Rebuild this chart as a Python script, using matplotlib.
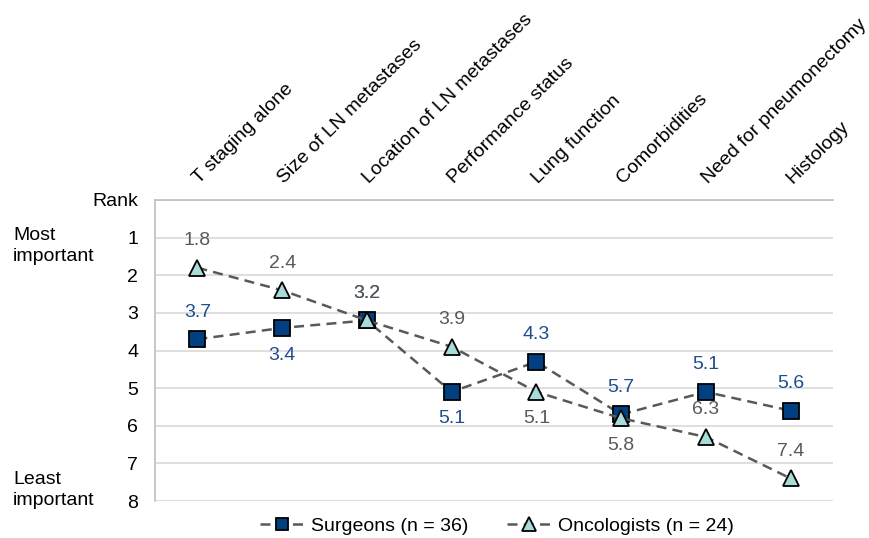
import matplotlib
matplotlib.use('Agg')
import matplotlib.pyplot as plt

plt.rcParams['font.family'] = ['Liberation Sans', 'DejaVu Sans']

categories = ['T staging alone', 'Size of LN metastases', 'Location of LN metastases',
              'Performance status', 'Lung function', 'Comorbidities',
              'Need for pneumonectomy', 'Histology']
surgeons = [3.7, 3.4, 3.2, 5.1, 4.3, 5.7, 5.1, 5.6]
oncologists = [1.8, 2.4, 3.2, 3.9, 5.1, 5.8, 6.3, 7.4]
# +1 = label above the marker, -1 = below
surg_pos = [1, -1, 1, -1, 1, 1, 1, 1]
onco_pos = [1, 1, 1, 1, -1, -1, 1, 1]

fs = 14

fig = plt.figure(figsize=(8.69, 5.38), dpi=100)
ax = fig.add_axes([155 / 869, 1 - 501 / 538, 678 / 869, 301 / 538])

x = list(range(len(categories)))
ax.plot(x, surgeons, ls=(0, (4, 2.5)), color='#595959', lw=1.8,
        marker='s', ms=11, mfc='#003f80', mec='black', mew=1.3,
        label='Surgeons (n = 36)', zorder=3)
ax.plot(x, oncologists, ls=(0, (4, 2.5)), color='#595959', lw=1.8,
        marker='^', ms=12, mfc='#a8dcd8', mec='black', mew=1.3,
        label='Oncologists (n = 24)', zorder=3)

for i, v in enumerate(surgeons):
    ax.annotate(f'{v:.1f}', (i, v), xytext=(0, 19.5 * surg_pos[i]), textcoords='offset points',
                ha='center', va='center', fontsize=fs, color='#1f4e8c')
for i, v in enumerate(oncologists):
    ax.annotate(f'{v:.1f}', (i, v), xytext=(0, 19.5 * onco_pos[i]), textcoords='offset points',
                ha='center', va='center', fontsize=fs, color='#595959')

# category names above the plot, rotated
for i, name in enumerate(categories):
    ax.annotate(name, (i, 0), xytext=(2, 16), textcoords='offset pixels',
                rotation=45, ha='left', va='baseline', rotation_mode='anchor',
                fontsize=fs, annotation_clip=False)

ax.set_xlim(-0.5, 7.5)
ax.set_ylim(8, 0)
ax.set_xticks([])
ax.set_yticks(range(0, 9))
ax.set_yticklabels(['Rank'] + [str(k) for k in range(1, 9)])
ax.grid(axis='y', color='#d9d9d9', lw=1.2)
ax.set_axisbelow(True)
ax.tick_params(axis='y', length=0, pad=12, labelsize=fs)

for s in ['right', 'bottom']:
    ax.spines[s].set_visible(False)
for s in ['left', 'top']:
    ax.spines[s].set_color('#bfbfbf')
    ax.spines[s].set_linewidth(1.2)

fig.text(13 / 869, 1 - 246 / 538, 'Most\nimportant', fontsize=fs, va='center', ha='left',
         linespacing=1.25)
fig.text(13 / 869, 1 - 490 / 538, 'Least\nimportant', fontsize=fs, va='center', ha='left',
         linespacing=1.25)

fig.legend(loc='center', bbox_to_anchor=(497 / 869, 1 - 526 / 538), ncol=2, frameon=False,
           fontsize=fs, handlelength=2.2, columnspacing=2.0, handletextpad=0.4,
           markerscale=0.8)

fig.savefig('out.png', dpi=100)
